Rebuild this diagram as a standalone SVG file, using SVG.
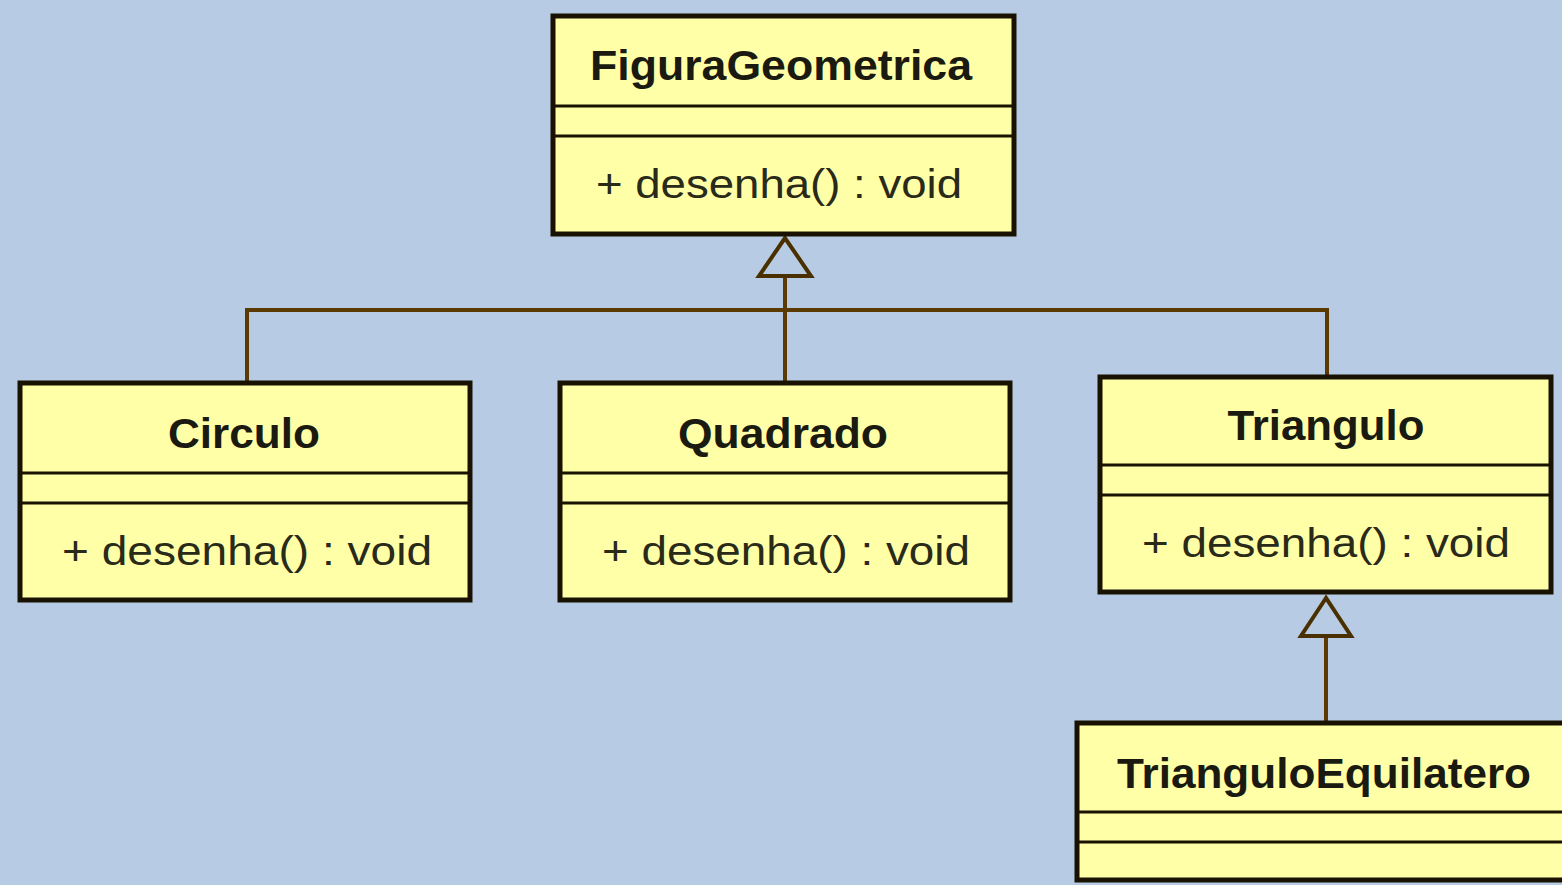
<svg xmlns="http://www.w3.org/2000/svg" width="1562" height="885" viewBox="0 0 1562 885">
<style>
.bg{fill:#B7CCE4}
.box{fill:#FFFFA8;stroke:#1A1200;stroke-width:5}
.div{stroke:#1A1200;stroke-width:3}
.title{font-family:"Liberation Sans",Arial,sans-serif;font-weight:bold;font-size:42px;fill:#1A1A10;text-anchor:middle}
.meth{font-family:"Liberation Sans",Arial,sans-serif;font-size:41px;fill:#2A2A18;text-anchor:middle}
.conn{fill:none;stroke:#5A3A00;stroke-width:4}
.head{fill:#B7CCE4;stroke:#4A3000;stroke-width:4;stroke-linejoin:miter}
</style>
<rect class="bg" x="0" y="0" width="1562" height="885"/>
<g id="connectors">
<path class="conn" d="M785 276 V382"/>
<path class="conn" d="M247 383 V310 H1327 V377"/>
<polygon class="head" points="785,238 759,276 811,276"/>
<path class="conn" d="M1326 636 V723"/>
<polygon class="head" points="1326,598 1301,636 1351,636"/>
</g>
<g id="FiguraGeometrica">
<rect class="box" x="553" y="16" width="461" height="218"/>
<line class="div" x1="553" y1="106" x2="1014" y2="106"/>
<line class="div" x1="553" y1="136" x2="1014" y2="136"/>
<text class="title" x="781" y="80" textLength="382" lengthAdjust="spacingAndGlyphs">FiguraGeometrica</text>
<text class="meth" x="779" y="198" textLength="366" lengthAdjust="spacingAndGlyphs">+ desenha() : void</text>
</g>
<g id="Circulo">
<rect class="box" x="20" y="383" width="450" height="217"/>
<line class="div" x1="20" y1="473" x2="470" y2="473"/>
<line class="div" x1="20" y1="503" x2="470" y2="503"/>
<text class="title" x="244" y="448" textLength="152" lengthAdjust="spacingAndGlyphs">Circulo</text>
<text class="meth" x="247" y="565" textLength="370" lengthAdjust="spacingAndGlyphs">+ desenha() : void</text>
</g>
<g id="Quadrado">
<rect class="box" x="560" y="383" width="450" height="217"/>
<line class="div" x1="560" y1="473" x2="1010" y2="473"/>
<line class="div" x1="560" y1="503" x2="1010" y2="503"/>
<text class="title" x="783" y="448" textLength="210" lengthAdjust="spacingAndGlyphs">Quadrado</text>
<text class="meth" x="786" y="565" textLength="368" lengthAdjust="spacingAndGlyphs">+ desenha() : void</text>
</g>
<g id="Triangulo">
<rect class="box" x="1100" y="377" width="451" height="215"/>
<line class="div" x1="1100" y1="465" x2="1551" y2="465"/>
<line class="div" x1="1100" y1="495" x2="1551" y2="495"/>
<text class="title" x="1326" y="440" textLength="197" lengthAdjust="spacingAndGlyphs">Triangulo</text>
<text class="meth" x="1326" y="557" textLength="368" lengthAdjust="spacingAndGlyphs">+ desenha() : void</text>
</g>
<g id="TrianguloEquilatero">
<rect class="box" x="1077" y="723" width="500" height="157"/>
<line class="div" x1="1077" y1="812" x2="1562" y2="812"/>
<line class="div" x1="1077" y1="842" x2="1562" y2="842"/>
<text class="title" x="1324" y="788" textLength="414" lengthAdjust="spacingAndGlyphs">TrianguloEquilatero</text>
</g>
</svg>
